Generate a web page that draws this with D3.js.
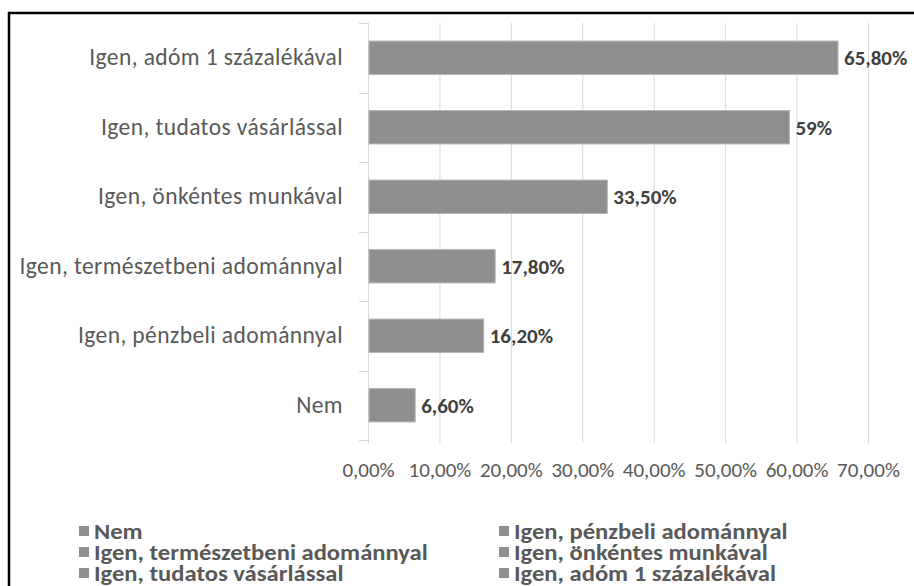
<!DOCTYPE html>
<html><head><meta charset="utf-8">
<script src="https://cdn.jsdelivr.net/npm/d3@7"></script>
<style>
body{margin:0;background:#fff}
text{font-family:Carlito,'Liberation Sans',sans-serif}
</style></head>
<body><svg id="vis" width="914" height="586"></svg>
<script>
// bars, bottom to top as in the chart
var categories = ["Nem", "Igen, pénzbeli adománnyal", "Igen, természetbeni adománnyal",
    "Igen, önkéntes munkával", "Igen, tudatos vásárlással", "Igen, adóm 1 százalékával"];
var values = [6.6, 16.2, 17.8, 33.5, 59, 65.8];
var valueLabels = ["6,60%", "16,20%", "17,80%", "33,50%", "59%", "65,80%"];
var xTicks = [0, 10, 20, 30, 40, 50, 60, 70];

var svg = d3.select("#vis");
var margin = {top: 23, left: 368, right: 46, bottom: 146};
var width = 914 - margin.left - margin.right;
var height = 586 - margin.top - margin.bottom;

// frame (runs off the right and bottom edge in the original)
svg.append("rect")
    .attr("x", 9).attr("y", 13)
    .attr("width", 1200).attr("height", 1200)
    .attr("fill", "none")
    .attr("stroke", "#000")
    .attr("stroke-width", 2.5);

var x = d3.scaleLinear().domain([0, 70]).range([0, width]);
var y = d3.scaleBand().domain(categories.slice().reverse()).range([0, height]).paddingInner(0.52).paddingOuter(0.26);

var g = svg.append("g").attr("transform", "translate(" + margin.left + "," + margin.top + ")");

// gridlines
g.append("g").selectAll("line")
    .data(xTicks)
    .enter().append("line")
    .attr("x1", function(d) { return x(d) + 0.5; })
    .attr("x2", function(d) { return x(d) + 0.5; })
    .attr("y1", 0).attr("y2", height + 3)
    .attr("stroke", "#d9d9d9");

// x tick labels
var xAxis = d3.axisBottom(x)
    .tickValues(xTicks)
    .tickSize(0)
    .tickPadding(0)
    .tickFormat(function(d) { return d3.format(".2f")(d).replace(".", ",") + "%"; });

var xa = g.append("g").attr("transform", "translate(0," + height + ")").call(xAxis);
xa.select(".domain").remove();
xa.selectAll("text")
    .attr("dy", null)
    .attr("y", 37)
    .style("font-family", "Carlito")
    .style("font-size", "21px")
    .attr("fill", "#595959");

// category axis
var yAxis = d3.axisLeft(y).tickSize(0).tickPadding(25);
var ya = g.append("g").call(yAxis);
ya.select(".domain").remove();
ya.selectAll("text")
    .style("font-family", "Carlito")
    .style("font-size", "23.5px")
    .style("letter-spacing", "0.4px")
    .attr("fill", "#595959");

// little category separator ticks
var bounds = d3.range(categories.length + 1).map(function(i) { return (height / categories.length) * i; });
g.append("g").selectAll("line")
    .data(bounds)
    .enter().append("line")
    .attr("x1", -9).attr("x2", 0)
    .attr("y1", function(d) { return Math.round(d) + 0.5; })
    .attr("y2", function(d) { return Math.round(d) + 0.5; })
    .attr("stroke", "#d9d9d9");

// bars
g.append("g").selectAll("rect")
    .data(values)
    .enter().append("rect")
    .attr("x", 1)
    .attr("y", function(d, i) { return y(categories[i]); })
    .attr("width", function(d) { return x(d) - 1; })
    .attr("height", y.bandwidth())
    .attr("fill", "#8f8f8f")
    .attr("stroke", "#b5b5b5")
    .attr("stroke-width", 1);

// value labels
g.append("g").selectAll("text")
    .data(values)
    .enter().append("text")
    .attr("x", function(d) { return x(d) + 6; })
    .attr("y", function(d, i) { return y(categories[i]) + y.bandwidth() / 2; })
    .attr("dy", "0.35em")
    .style("font-size", "21px")
    .style("font-weight", "bold")
    .attr("fill", "#404040")
    .text(function(d, i) { return valueLabels[i]; });

// legend, 2 columns
var legend = svg.append("g");
var item = legend.selectAll("g")
    .data(categories)
    .enter().append("g")
    .attr("transform", function(d, i) {
        return "translate(" + (i % 2 ? 499 : 79) + "," + (531 + Math.floor(i / 2) * 21) + ")";
    });
item.append("rect")
    .attr("x", 0).attr("y", -5)
    .attr("width", 10).attr("height", 10)
    .attr("fill", "#8f8f8f");
item.append("text")
    .attr("transform", "translate(15,0) scale(1.12,1)")
    .attr("dy", "0.35em")
    .style("font-size", "22px")
    .style("font-weight", "bold")
    .attr("fill", "#595959")
    .text(function(d) { return d; });
</script></body></html>
